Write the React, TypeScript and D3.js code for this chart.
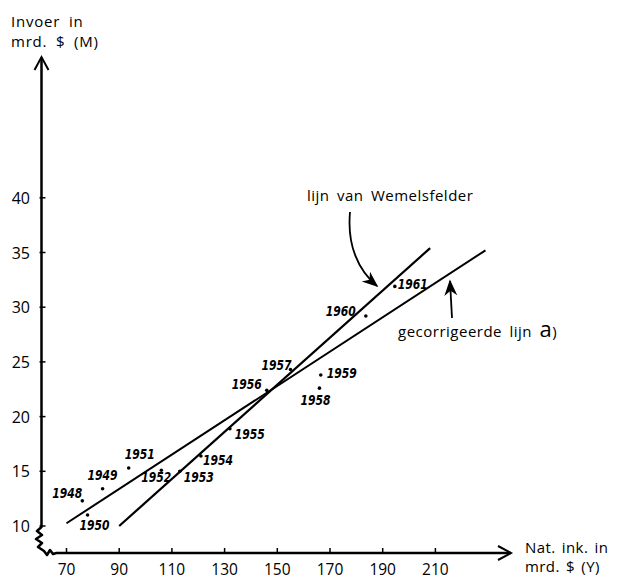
import React from "react";
import * as d3 from "d3";

// jaren en waarden (nat. inkomen Y, invoer M) in mrd. $
const years = [1948, 1949, 1950, 1951, 1952, 1953, 1954, 1955, 1956, 1957, 1958, 1959, 1960, 1961];
const inkomen = [76, 83.7, 78, 93.6, 106, 113, 121, 132, 146, 155, 166, 166.5, 183.6, 194.6];
const invoer = [12.3, 13.4, 11.0, 15.3, 15.1, 15.0, 16.4, 18.9, 22.4, 24.3, 22.6, 23.8, 29.2, 31.9];

const xTicks = [70, 90, 110, 130, 150, 170, 190, 210];
const yTicks = [10, 15, 20, 25, 30, 35, 40];

const lijnWemelsfelder: [number, number][] = [[90, 10], [208, 35.4]];
const lijnGecorrigeerd: [number, number][] = [[70, 10.25], [229, 35.2]];

// label offsets in px (plaatsing van de jaartallen)
const labelOffset: Record<number, [number, number]> = {
  1948: [-30, -3], 1949: [-15, -9], 1950: [-8, 15], 1951: [-4, -9],
  1952: [-20, 12], 1953: [4, 11], 1954: [2, 9], 1955: [5, 10],
  1956: [-35, -1], 1957: [-29, 0], 1958: [-19, 17], 1959: [6, 3],
  1960: [-40, 0], 1961: [3, 3],
};

export default function App() {
  const x = d3.scaleLinear().domain([70, 210]).range([66.5, 435.4]);
  const y = d3.scaleLinear().domain([10, 40]).range([526, 197.8]);
  const line = d3.line<[number, number]>().x(d => x(d[0])).y(d => y(d[1]));

  const axX = 41.5;
  const axY = 553;
  const sans = "'Open Sans', 'DejaVu Sans', sans-serif";
  const hand = "'DejaVu Sans', sans-serif";

  const zigzag = `M${axX},58 L${axX},527 L37,531 L42,535 L36,539 L42,543 L38,547 L44,551 L47,555 L50,550 L53,554 L${axX + 15},${axY} L511,${axY}`;

  return (
    <svg width={623} height={580} style={{ position: "absolute", left: 0, top: 0, background: "#fff" }}>
      <defs>
        <marker id="head" viewBox="0 0 10 10" refX="9" refY="5" markerWidth="9" markerHeight="9" orient="auto">
          <path d="M0,1 L10,5 L0,9 L3,5 Z" fill="#000" />
        </marker>
      </defs>

      {/* assen */}
      <path d={zigzag} fill="none" stroke="#000" strokeWidth={2.5} strokeLinejoin="round" />
      <path d={`M${axX - 7},70 L${axX},57 L${axX + 7},70`} fill="none" stroke="#000" strokeWidth={2} />
      <path d={`M498,${axY - 7} L511,${axY} L498,${axY + 7}`} fill="none" stroke="#000" strokeWidth={2} />

      {yTicks.map(t => (
        <g key={t}>
          <line x1={axX - 2} x2={axX + 4} y1={y(t)} y2={y(t)} stroke="#000" strokeWidth={1.5} />
          <text x={30} y={y(t) + 6} textAnchor="end" fontFamily={sans} fontSize={16}>{t}</text>
        </g>
      ))}
      {xTicks.map(t => (
        <g key={t}>
          <line x1={x(t)} x2={x(t)} y1={axY} y2={axY - 5} stroke="#000" strokeWidth={1.5} />
          <text x={x(t)} y={575} textAnchor="middle" fontFamily={sans} fontSize={15.5}>{t}</text>
        </g>
      ))}

      <text fontFamily={sans} fontSize={15} letterSpacing={0.8} wordSpacing={4}>
        <tspan x={11} y={27}>Invoer in</tspan>
        <tspan x={11} y={47}>mrd. $ (M)</tspan>
      </text>
      <text fontFamily={sans} fontSize={15} letterSpacing={0.4} wordSpacing={2}>
        <tspan x={525} y={553}>Nat. ink. in</tspan>
        <tspan x={525} y={572}>mrd. $ (Y)</tspan>
      </text>

      {/* lijnen */}
      <path d={line(lijnWemelsfelder) || ""} fill="none" stroke="#000" strokeWidth={2.2} />
      <path d={line(lijnGecorrigeerd) || ""} fill="none" stroke="#000" strokeWidth={2} />

      {/* punten */}
      {years.map((yr, i) => {
        const px = x(inkomen[i]);
        const py = y(invoer[i]);
        const [dx, dy] = labelOffset[yr];
        return (
          <g key={yr}>
            <circle cx={px} cy={py} r={1.8} fill="#000" />
            <text x={px + dx} y={py + dy} fontFamily={hand} fontStyle="italic" fontWeight={600} fontSize={14}
              textLength={30} lengthAdjust="spacingAndGlyphs">{yr}</text>
          </g>
        );
      })}

      {/* annotaties */}
      <text x={307} y={201} fontFamily={sans} fontSize={15} letterSpacing={0.5} wordSpacing={3}>lijn van Wemelsfelder</text>
      <path d="M350,212 C347,245 358,270 377,286" fill="none" stroke="#000" strokeWidth={1.8} markerEnd="url(#head)" />

      <text x={398} y={337} fontFamily={sans} fontSize={15} letterSpacing={0.5} wordSpacing={3}>
        gecorrigeerde lijn <tspan fontSize={22}>a</tspan>)
      </text>
      <path d="M452,318 L450,281" fill="none" stroke="#000" strokeWidth={1.8} markerEnd="url(#head)" />
    </svg>
  );
}
